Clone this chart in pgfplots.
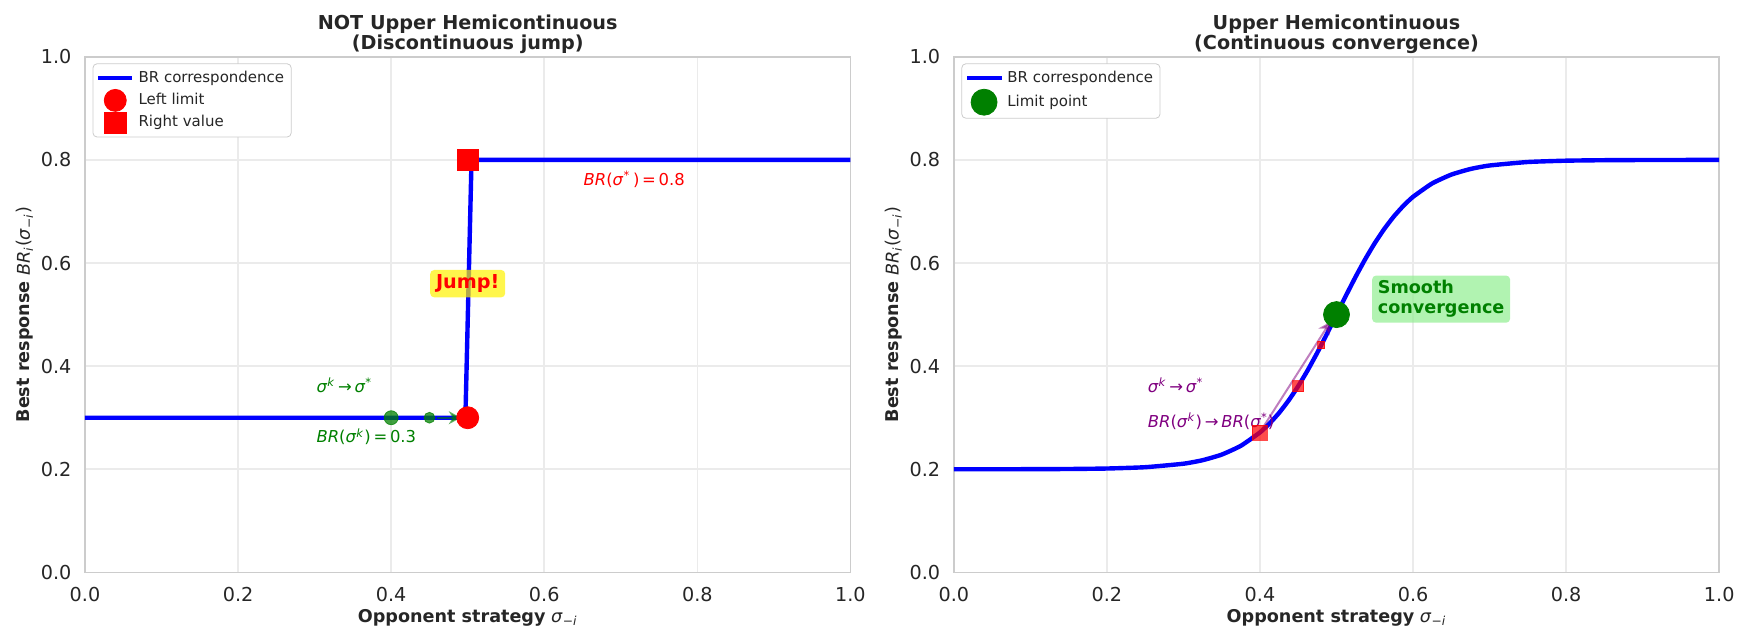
\documentclass[border=0pt]{standalone}
\usepackage{fontspec}
\setmainfont{DejaVu Sans}
\usepackage{pgfplots}
\pgfplotsset{compat=1.18}
\usetikzlibrary{arrows.meta}
\definecolor{txt}{HTML}{262626}
\definecolor{gridc}{HTML}{EBEBEB}
\definecolor{framec}{HTML}{CCCCCC}
\definecolor{mplgreen}{HTML}{008000}
\definecolor{mplpurple}{HTML}{800080}
\definecolor{lightgreen}{HTML}{90EE90}
\newcommand{\sig}{\textit{σ}}
\pgfkeys{/pgf/number format/.cd,fixed,fixed zerofill,precision=1,assume math mode=true}
\pgfplotsset{
 mystyle/.style={
  scale only axis, width=382.7pt, height=257.8pt,
  xmin=0,xmax=1,ymin=0,ymax=1,
  xtick={0,0.2,0.4,0.6,0.8,1}, ytick={0,0.2,0.4,0.6,0.8,1},
  grid=major, major grid style={gridc, line width=0.8pt},
  major tick length=0,
  axis line style={framec, line width=0.9pt},
  tick label style={font=\fontsize{9.6}{11}\selectfont, text=txt},
  yticklabel style={xshift=-3.3pt},
  xticklabel style={yshift=-4pt},
  title style={font=\fontsize{9.6}{10}\selectfont\bfseries, text=txt, align=center, at={(0.5,1)}, anchor=south, inner sep=0pt, yshift=-4.5pt},
  xlabel style={font=\fontsize{8.8}{10}\selectfont, text=txt, at={(axis description cs:0.5,0)}, anchor=base, yshift=-25.1pt, inner sep=0pt},
  ylabel style={font=\fontsize{8.8}{10}\selectfont, text=txt, at={(axis description cs:-0.0784,0.5)}, anchor=center, inner sep=0pt},
  xlabel={\textbf{Opponent strategy} \sig\textsubscript{−\textit{i}}},
  ylabel={\textbf{Best response} \textit{BR}\textsubscript{\textit{i}}(\sig\textsubscript{−\textit{i}})},
  legend style={at={(0,1)}, anchor=north west, xshift=3.8pt, yshift=-3.3pt, draw=framec, rounded corners=2pt, fill=white, font=\fontsize{7.5}{9}\selectfont, text=txt, inner sep=1.5pt},
  legend cell align=left,
 }
}
\begin{document}
\begin{tikzpicture}
\path[use as bounding box] (0,0) rectangle (871.5pt,313.5pt);
% ---------------- Left panel ----------------
\begin{axis}[mystyle, at={(42.5pt,27.3pt)}, anchor=south west,
  title={NOT Upper Hemicontinuous\\(Discontinuous jump)}]
\addplot[blue, line width=2.2pt, line join=round] coordinates {(0,0.3) (0.497,0.3) (0.505,0.8) (1,0.8)};
\addlegendentry{BR correspondence}
\addplot[only marks, mark=*, mplgreen, opacity=0.75, mark size=3.5pt, forget plot] coordinates {(0.40,0.3)};
\addplot[only marks, mark=*, mplgreen, opacity=0.75, mark size=2.7pt, forget plot] coordinates {(0.45,0.3)};
\draw[mplgreen, opacity=0.6, line width=1pt, -{Stealth[length=6pt, width=6.5pt]}] (axis cs:0.46,0.3) -- (axis cs:0.491,0.3);
\addplot[only marks, mark=*, red, mark size=5.5pt] coordinates {(0.5,0.3)};
\addlegendentry{Left limit}
\addplot[only marks, mark=square*, red, mark size=5.4pt] coordinates {(0.5,0.8)};
\addlegendentry{Right value}
\node[anchor=west, mplgreen, font=\fontsize{8.2}{10}\selectfont, inner sep=0pt] at (axis cs:0.302,0.363) {\sig\textsuperscript{\textit{k}}\,→\,\sig\textsuperscript{*}};
\node[anchor=west, mplgreen, font=\fontsize{8.2}{10}\selectfont, inner sep=0pt] at (axis cs:0.302,0.263) {\textit{BR}(\sig\textsuperscript{\textit{k}})\,=\,0.3};
\node[anchor=west, red, font=\fontsize{8.2}{10}\selectfont, inner sep=0pt] at (axis cs:0.651,0.762) {\textit{BR}(\sig\textsuperscript{*}\,)\,=\,0.8};
\node[fill=yellow, fill opacity=0.7, text opacity=1, text=red, rounded corners=2pt, font=\fontsize{9.6}{11}\selectfont\bfseries, minimum width=37.5pt, minimum height=13.7pt, inner sep=1pt] at (axis cs:0.5,0.56) {Jump!};
\end{axis}
% ---------------- Right panel ----------------
\begin{axis}[mystyle, at={(476.9pt,27.3pt)}, anchor=south west,
  title={Upper Hemicontinuous\\(Continuous convergence)}]
\addplot[blue, line width=2.2pt, smooth, tension=0.3] coordinates {
(0,0.20003) (0.05,0.20007) (0.1,0.2002) (0.15,0.20055) (0.2,0.20148) (0.25,0.20402)
(0.3,0.21079) (0.325,0.21759) (0.35,0.22846) (0.375,0.24551) (0.4,0.27152) (0.4125,0.28883)
(0.425,0.30946) (0.4375,0.33362) (0.45,0.36136) (0.4625,0.39249) (0.475,0.42652) (0.4875,0.46269)
(0.5,0.5) (0.5125,0.53731) (0.525,0.57348) (0.5375,0.60751) (0.55,0.63864) (0.5625,0.66638)
(0.575,0.69054) (0.5875,0.71117) (0.6,0.72848) (0.625,0.75449) (0.65,0.77154) (0.675,0.78241)
(0.7,0.78921) (0.75,0.79598) (0.8,0.79852) (0.85,0.79945) (0.9,0.7998) (0.95,0.79993) (1,0.79997)};
\addlegendentry{BR correspondence}
\addplot[only marks, mark=square*, red, opacity=0.7, mark size=3.75pt, forget plot] coordinates {(0.4,0.27152)};
\addplot[only marks, mark=square*, red, opacity=0.7, mark size=2.75pt, forget plot] coordinates {(0.45,0.36136)};
\addplot[only marks, mark=square*, red, opacity=0.7, mark size=1.8pt, forget plot] coordinates {(0.48,0.44101)};
\draw[mplpurple, opacity=0.5, line width=1pt, -{Stealth[length=6pt, width=6.5pt]}] (axis cs:0.4,0.272) -- (axis cs:0.492,0.486);
\addplot[only marks, mark=*, mplgreen, mark size=6.5pt] coordinates {(0.5,0.5)};
\addlegendentry{Limit point}
\node[anchor=west, mplpurple, font=\fontsize{8.2}{10}\selectfont, inner sep=0pt] at (axis cs:0.253,0.363) {\sig\textsuperscript{\textit{k}}\,→\,\sig\textsuperscript{*}};
\node[anchor=west, mplpurple, font=\fontsize{8.2}{10}\selectfont, inner sep=0pt] at (axis cs:0.253,0.293) {\textit{BR}(\sig\textsuperscript{\textit{k}})\,→\,\textit{BR}(\sig\textsuperscript{*})};
\node[anchor=west, fill=lightgreen, fill opacity=0.7, text opacity=1, text=mplgreen, rounded corners=2pt, font=\fontsize{8.8}{10}\selectfont\bfseries, align=left, inner sep=2.5pt, minimum width=69pt, minimum height=23.3pt] at (axis cs:0.546,0.53) {Smooth\\convergence};
\end{axis}
\end{tikzpicture}
\end{document}
